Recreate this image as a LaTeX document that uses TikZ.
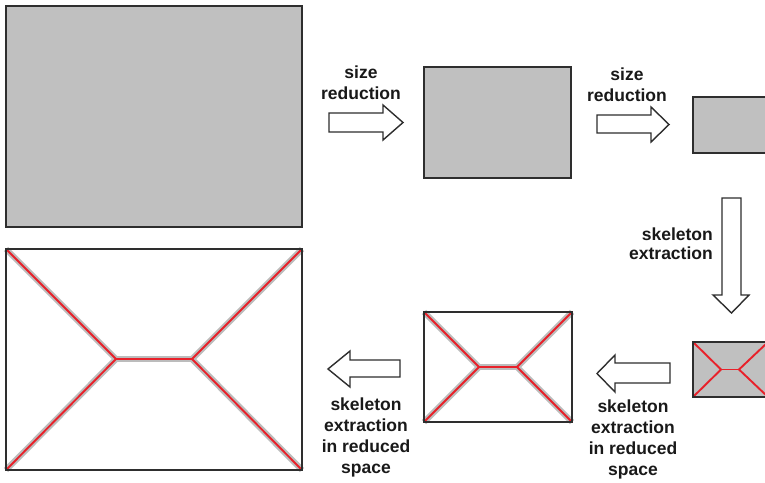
\documentclass[tikz,border=0pt]{standalone}
\usepackage{fontspec}
\setmainfont{Liberation Sans}
\definecolor{boxline}{HTML}{2E2E2E}
\definecolor{shapegray}{HTML}{C0C0C0}
\definecolor{halogray}{HTML}{BCBCBC}
\definecolor{skelred}{HTML}{E8212A}
\tikzset{
  box/.style={draw=boxline, line width=1.5pt},
  grayfill/.style={fill=shapegray},
  halo/.style={draw=halogray, line width=6pt},
  skel/.style={draw=skelred, line width=1.9pt},
  barrow/.style={draw=boxline, line width=1.4pt, fill=white, line join=miter},
  lbl/.style={font=\bfseries\fontsize{17.5}{21}\selectfont, inner sep=0pt, text=black!90}
}
\newcommand\skelhalo[7]{%
  \draw[halo] (#1,#2) -- (#5,#7) -- (#1,#4);
  \draw[halo] (#3,#2) -- (#6,#7) -- (#3,#4);
  \draw[halo] (#5,#7) -- (#6,#7);
}
\newcommand\skelred[7]{%
  % #1,#2 = top-left; #3,#4 = bottom-right; #5,#6 = junction x; #7 = junction y
  \draw[skel] (#1,#2) -- (#5,#7) -- (#1,#4);
  \draw[skel] (#3,#2) -- (#6,#7) -- (#3,#4);
  \draw[skel] (#5,#7) -- (#6,#7);
}
\begin{document}
\begin{tikzpicture}[x=1pt,y=-1pt]
\useasboundingbox (0,0) rectangle (765,482);
\clip (0,0) rectangle (765,482);
\fill[white] (0,0) rectangle (765,482);

% top row
\fill[grayfill] (6,6) rectangle (302,227);
\draw[box] (6,6) rectangle (302,227);
\fill[grayfill] (424,67) rectangle (571,178);
\draw[box] (424,67) rectangle (571,178);
\fill[grayfill] (693,97) rectangle (768,153);
\draw[box] (693,97) rectangle (768,153);

% bottom row
\skelhalo{6}{249}{302}{470}{116}{192}{359}
\skelred{6}{249}{302}{470}{116}{192}{359}
\draw[box] (6,249) rectangle (302,470);
\skelhalo{424}{312}{572}{422}{479}{517}{367}
\skelred{424}{312}{572}{422}{479}{517}{367}
\draw[box] (424,312) rectangle (572,422);
\fill[grayfill] (693,342) rectangle (768,397);
\skelred{693}{342}{768}{397}{721}{739}{369.5}
\draw[box] (693,342) rectangle (768,397);

% block arrows
\draw[barrow] (329,113) -- (383,113) -- (383,105) -- (403,122.5) -- (383,140) -- (383,132) -- (329,132) -- cycle;
\draw[barrow] (597,115) -- (651,115) -- (651,107) -- (669,124.5) -- (651,142) -- (651,133) -- (597,133) -- cycle;
\draw[barrow] (722,198) -- (741,198) -- (741,295) -- (749,295) -- (731.5,313) -- (713,295) -- (722,295) -- cycle;
\draw[barrow] (670,363) -- (615,363) -- (615,355) -- (597,373.5) -- (615,392) -- (615,383) -- (670,383) -- cycle;
\draw[barrow] (400,360) -- (350,360) -- (350,351) -- (328,369) -- (350,387) -- (350,377) -- (400,377) -- cycle;

% labels
\node[lbl, align=center] (t1) at (361,83) {size\\reduction};
\node[lbl, align=center] (t2) at (627,85) {size\\reduction};
\node[lbl, align=right, anchor=east, font=\bfseries\fontsize{17.5}{19}\selectfont] (t3) at (713,244) {skeleton\\extraction};
\node[lbl, align=center] (t4) at (633,439) {skeleton\\extraction\\in reduced\\space};
\node[lbl, align=center] (t5) at (366,437) {skeleton\\extraction\\in reduced\\space};
\end{tikzpicture}
\end{document}
